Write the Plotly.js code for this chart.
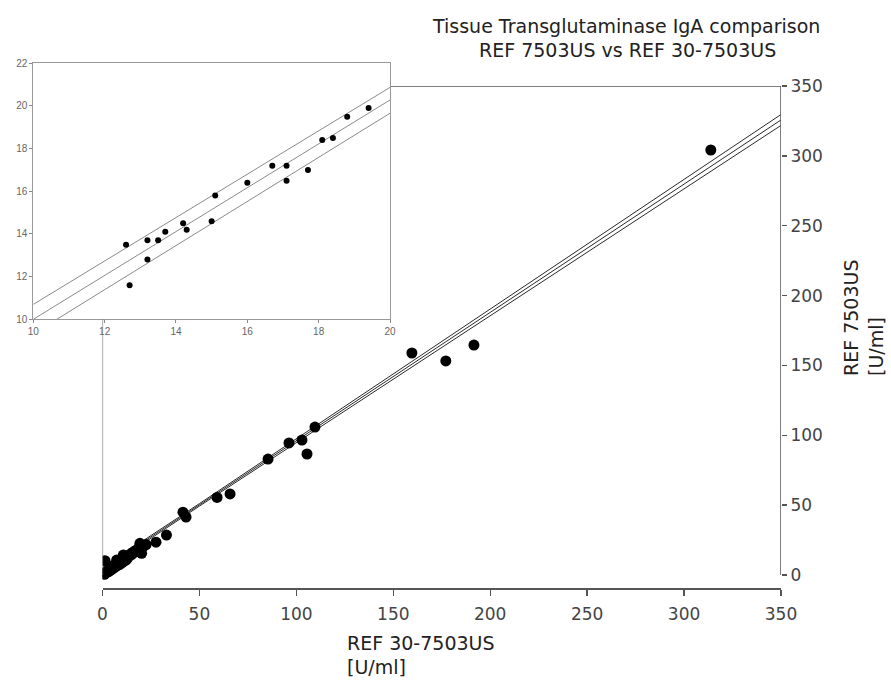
<!DOCTYPE html>
<html>
<head>
<meta charset="utf-8">
<script src="https://cdn.plot.ly/plotly-3.0.1.min.js"></script>
<style>html,body{margin:0;padding:0;background:#fff;}#chart{width:891px;height:680px;}</style>
</head>
<body>
<div id="chart"></div>
<script>
// ---- Main comparison data (REF 30-7503US on x, REF 7503US on y), U/ml ----
const refX = [0.4, 1.3, 1.0, 2.0, 2.6, 3.2, 3.9, 4.5, 5.2, 5.8, 6.4, 7.3, 7.0, 8.1, 8.8, 9.5, 10.2, 10.7, 11.3, 11.9,
  12.6, 12.7, 13.2, 13.2, 13.5, 13.7, 14.2, 14.3, 15.0, 15.1, 16.0, 16.7, 17.1, 17.1, 17.7, 18.1, 18.4, 18.8, 19.4,
  20.2, 19.3, 21.0, 22.5, 27.6, 33.0, 41.5, 43.1, 59.1, 65.8, 85.4, 96.2, 102.9, 105.5, 109.6, 159.6, 177.1, 191.6, 313.8];
const refY = [1.2, 10.2, 0.5, 1.8, 3.1, 2.4, 5.9, 3.6, 6.4, 4.9, 7.5, 10.7, 6.1, 9.0, 7.4, 10.6, 8.9, 14.3, 11.6, 10.4,
  13.5, 11.6, 13.7, 12.8, 13.7, 14.1, 14.5, 14.2, 14.6, 15.8, 16.4, 17.2, 17.2, 16.5, 17.0, 18.4, 18.5, 19.5, 19.9,
  15.5, 22.7, 20.3, 21.8, 23.5, 28.6, 45.0, 41.5, 55.5, 58.0, 83.0, 94.5, 96.6, 86.6, 105.9, 158.9, 153.2, 164.6, 304.2];

// regression line and confidence band
const fitX = [0, 50, 350];
const fitY = [4.3, 50.2, 325.7];
const upperY = [5.4, 51.1, 329.6];
const lowerY = [3.2, 49.3, 321.8];

// ---- Inset (low range 10-20 U/ml) ----
const insetX = [12.6, 12.7, 13.2, 13.2, 13.5, 13.7, 14.2, 14.3, 15.0, 15.1, 16.0, 16.7, 17.1, 17.1, 17.7, 18.1, 18.4, 18.8, 19.4];
const insetY = [13.5, 11.6, 13.7, 12.8, 13.7, 14.1, 14.5, 14.2, 14.6, 15.8, 16.4, 17.2, 17.2, 16.5, 17.0, 18.4, 18.5, 19.5, 19.9];
const insetFitX = [10, 20];
const insetFitY = [10.0, 20.28];
const insetUpperY = [10.70, 20.87];
const insetLowerY = [9.32, 19.66];

// tick labels
const mainTicks = [0, 50, 100, 150, 200, 250, 300, 350];
const insetXTicks = [10, 12, 14, 16, 18, 20];
const insetYTicks = [10, 12, 14, 16, 18, 20, 22];

// texts
const titleLines = ['Tissue Transglutaminase IgA comparison', 'REF 7503US vs REF 30-7503US'];
const xTitleLines = ['REF 30-7503US', '[U/ml]'];
const yTitleLines = ['REF 7503US', '[U/ml]'];

const W = 891, H = 680;
const px = v => v / W;
const py = v => (H - v) / H;

const lineMain = {color: '#2a2a2a', width: 1};
const lineInset = {color: '#8a8a8a', width: 1};

const traces = [
  {x: fitX, y: upperY, mode: 'lines', line: lineMain, xaxis: 'x', yaxis: 'y', hoverinfo: 'skip'},
  {x: fitX, y: fitY, mode: 'lines', line: lineMain, xaxis: 'x', yaxis: 'y', hoverinfo: 'skip'},
  {x: fitX, y: lowerY, mode: 'lines', line: lineMain, xaxis: 'x', yaxis: 'y', hoverinfo: 'skip'},
  {x: refX, y: refY, mode: 'markers', marker: {color: '#000', size: 11}, xaxis: 'x', yaxis: 'y'},
  {x: insetFitX, y: insetUpperY, mode: 'lines', line: lineInset, xaxis: 'x2', yaxis: 'y2', hoverinfo: 'skip'},
  {x: insetFitX, y: insetFitY, mode: 'lines', line: lineInset, xaxis: 'x2', yaxis: 'y2', hoverinfo: 'skip'},
  {x: insetFitX, y: insetLowerY, mode: 'lines', line: lineInset, xaxis: 'x2', yaxis: 'y2', hoverinfo: 'skip'},
  {x: insetX, y: insetY, mode: 'markers', marker: {color: '#000', size: 6}, xaxis: 'x2', yaxis: 'y2'}
];

const pxPerY = (575 - 86) / 350;
const yMin = -(588 - 575) / pxPerY;

const tickFont = {family: 'DejaVu Sans, sans-serif', size: 17, color: '#444'};
const insetFont = {family: 'Liberation Sans, Arial, sans-serif', size: 10, color: '#666'};
const textFont = {family: 'DejaVu Sans, sans-serif', size: 19, color: '#222'};

function ann(text, x, y, xanchor, extra) {
  return Object.assign({text: text, xref: 'paper', yref: 'paper', x: px(x), y: py(y),
    xanchor: xanchor, yanchor: 'middle', showarrow: false, font: textFont}, extra || {});
}

const layout = {
  width: W, height: H,
  margin: {l: 0, r: 0, t: 0, b: 0},
  paper_bgcolor: '#fff', plot_bgcolor: '#fff',
  showlegend: false,
  xaxis: {
    domain: [px(102.5), px(781)], range: [0, 350], anchor: 'y',
    tickvals: mainTicks, ticks: 'outside', ticklen: 6, tickcolor: '#555', tickwidth: 1.3,
    ticklabelstandoff: 4,
    showline: true, linecolor: '#555', linewidth: 1.5,
    showgrid: false, zeroline: false, tickfont: tickFont
  },
  yaxis: {
    domain: [py(588), py(86)], range: [yMin, 350], anchor: 'x', side: 'right',
    tickvals: mainTicks, ticks: 'outside', ticklen: 5, tickcolor: '#555', tickwidth: 1.3,
    showline: false, showgrid: false, zeroline: false, tickfont: tickFont
  },
  yaxis3: {
    overlaying: 'y', side: 'left', anchor: 'x', range: [yMin, 350],
    tickvals: [50, 100, 150], ticks: 'outside', ticklen: 4, tickcolor: '#666',
    showticklabels: false, showline: false, showgrid: false, zeroline: false
  },
  xaxis2: {
    domain: [px(33.3), px(390)], range: [10, 20], anchor: 'y2',
    tickvals: insetXTicks, ticks: 'outside', ticklen: 3, tickcolor: '#888',
    showline: true, mirror: true, linecolor: '#999', linewidth: 1,
    showgrid: false, zeroline: false, tickfont: insetFont
  },
  yaxis2: {
    domain: [py(319.3), py(63.3)], range: [10, 22], anchor: 'x2',
    tickvals: insetYTicks, ticks: 'outside', ticklen: 3, tickcolor: '#888',
    showline: true, mirror: true, linecolor: '#999', linewidth: 1,
    showgrid: false, zeroline: false, tickfont: insetFont
  },
  shapes: [
    {type: 'line', xref: 'x', yref: 'y', x0: 350, x1: 350, y0: 0, y1: 350, line: {color: '#555', width: 1.5}},
    {type: 'line', xref: 'x', yref: 'y', x0: 148.8, x1: 350, y0: 350, y1: 350, line: {color: '#555', width: 1.5}},
    {type: 'line', xref: 'x', yref: 'y', x0: 0, x1: 0, y0: 0, y1: 183, line: {color: '#777', width: 1.2}}
  ],
  annotations: [
    ann(titleLines[0], 626, 26, 'center'),
    ann(titleLines[1], 627, 50, 'center'),
    ann(xTitleLines[0], 345, 643, 'left'),
    ann(xTitleLines[1], 345, 667, 'left'),
    ann(yTitleLines.join('<br>'), 863, 318, 'center', {textangle: -90, align: 'left'})
  ]
};

Plotly.newPlot('chart', traces, layout, {staticPlot: true, displayModeBar: false});
</script>
</body>
</html>
